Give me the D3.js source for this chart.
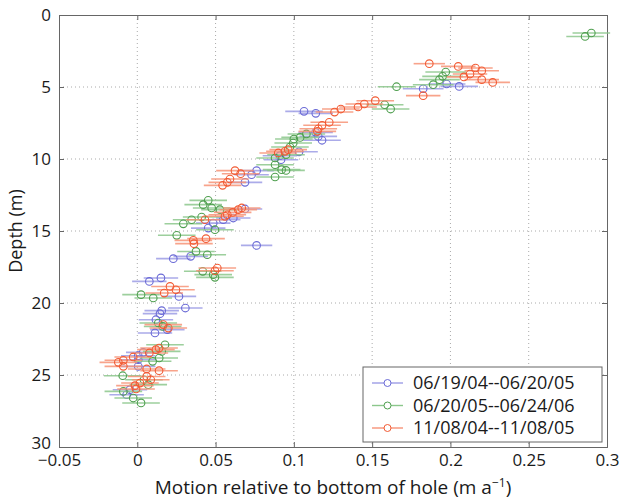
<!DOCTYPE html>
<html>
<head>
<meta charset="utf-8">
<script src="https://cdn.jsdelivr.net/npm/d3@7"></script>
<style>
  body { margin: 0; background: #fff; }
  svg text { font-family: "Open Sans", sans-serif; fill: #1a1a1a; }
</style>
</head>
<body>
<svg id="chart"></svg>
<script>
// [motion (m/a), depth (m), half error bar (m/a)]
var blueData = [
  [0.1976,4.79,0.012],[0.2056,4.96,0.012],[0.1826,5.12,0.013],[0.1065,6.69,0.012],[0.114,6.83,0.011],
  [0.1139,8.15,0.011],[0.1156,8.43,0.012],[0.118,8.7,0.012],[0.1033,9.5,0.012],[0.0911,9.77,0.011],
  [0.0918,10.05,0.011],[0.0762,10.81,0.011],[0.073,11.09,0.011],[0.0688,11.62,0.011],[0.0688,13.47,0.011],
  [0.0613,14.1,0.011],[0.0549,14.22,0.011],[0.0485,14.45,0.011],[0.0453,14.8,0.011],[0.0762,16.0,0.01],
  [0.0341,16.76,0.011],[0.023,16.92,0.011],[0.0151,18.26,0.011],[0.0077,18.5,0.011],[0.0266,19.54,0.011],
  [0.0307,20.35,0.011],[0.0156,20.53,0.011],[0.0145,20.74,0.011],[0.0119,21.16,0.011],[0.0192,21.85,0.011],
  [0.0113,22.08,0.011],[0.0038,23.43,0.011],[0.0006,23.66,0.011],[0.0006,23.94,0.011],[0.0006,24.4,0.011],
  [-0.0047,26.02,0.011],[-0.0068,26.37,0.011]
];
var greenData = [
  [0.290,1.25,0.012],[0.286,1.49,0.012],[0.197,3.96,0.013],[0.195,4.26,0.013],[0.193,4.49,0.013],
  [0.189,4.84,0.013],[0.1656,4.98,0.012],[0.158,6.23,0.012],[0.1618,6.53,0.012],[0.108,8.26,0.012],
  [0.104,8.5,0.012],[0.100,8.61,0.012],[0.0996,8.89,0.012],[0.0975,9.17,0.012],[0.095,9.7,0.012],
  [0.088,9.93,0.012],[0.088,10.4,0.012],[0.0922,10.74,0.012],[0.095,10.79,0.012],[0.088,11.25,0.012],
  [0.0453,12.87,0.012],[0.0421,13.17,0.012],[0.0475,13.4,0.012],[0.0528,13.52,0.012],[0.0411,14.03,0.012],
  [0.0347,14.22,0.012],[0.0294,14.5,0.012],[0.0496,14.91,0.012],[0.0252,15.3,0.012],[0.0375,16.42,0.012],
  [0.0447,16.65,0.012],[0.0418,17.8,0.012],[0.0485,18.03,0.012],[0.0496,18.22,0.012],[0.0024,19.42,0.012],
  [0.0102,19.65,0.012],[0.0134,21.39,0.012],[0.0162,21.63,0.012],[0.0177,22.9,0.012],[0.0156,23.36,0.012],
  [0.014,23.82,0.012],[0.0098,24.05,0.012],[-0.0093,25.05,0.012],[0.0043,25.33,0.012],[0.007,25.67,0.012],
  [-0.0089,26.14,0.012],[-0.0026,26.6,0.012],[0.0024,26.94,0.012]
];
var redData = [
  [0.1865,3.38,0.01],[0.205,3.57,0.011],[0.216,3.68,0.011],[0.220,3.87,0.011],[0.2125,4.1,0.011],
  [0.2086,4.3,0.011],[0.220,4.49,0.011],[0.227,4.68,0.011],[0.1826,5.6,0.011],[0.152,5.95,0.012],
  [0.145,6.18,0.012],[0.141,6.39,0.012],[0.130,6.53,0.012],[0.126,6.74,0.012],[0.1226,7.45,0.012],
  [0.118,7.66,0.012],[0.1156,7.9,0.012],[0.115,8.08,0.012],[0.0964,9.35,0.012],[0.0943,9.47,0.012],
  [0.090,9.58,0.012],[0.0624,10.81,0.012],[0.066,11.02,0.012],[0.0592,11.39,0.012],[0.0575,11.62,0.012],
  [0.0545,11.83,0.012],[0.0667,13.4,0.012],[0.0645,13.52,0.012],[0.0609,13.71,0.012],[0.0575,13.87,0.012],
  [0.056,13.98,0.012],[0.0432,14.22,0.012],[0.0439,15.53,0.012],[0.0358,15.65,0.012],[0.0362,15.88,0.012],
  [0.0511,17.57,0.012],[0.0496,17.76,0.012],[0.0209,18.85,0.012],[0.0247,19.08,0.012],[0.0172,19.31,0.012],
  [0.0166,21.5,0.012],[0.0198,21.74,0.012],[0.0139,23.13,0.012],[0.0119,23.24,0.012],[0.0077,23.47,0.012],
  [-0.0026,23.75,0.012],[-0.0089,23.98,0.012],[-0.0121,24.12,0.012],[-0.0089,24.4,0.012],[0.006,24.58,0.012],
  [0.0139,24.7,0.012],[0.006,25.1,0.012],[0.0086,25.33,0.012],[0.0017,25.56,0.012],[-0.0015,25.74,0.012],
  [-0.0008,25.97,0.012]
];
var seriesNames = ["06/19/04--06/20/05", "06/20/05--06/24/06", "11/08/04--11/08/05"];
var xTicks = [-0.05, 0, 0.05, 0.1, 0.15, 0.2, 0.25, 0.3];
var xTickLabels = ["\u22120.05", "0", "0.05", "0.1", "0.15", "0.2", "0.25", "0.3"];
var yTicks = [0, 5, 10, 15, 20, 25, 30];

var width = 619, height = 501;
var mLeft = 59, mRight = 607, mTop = 15, mBottom = 447;

var svg = d3.select("#chart").attr("width", width).attr("height", height);

var x = d3.scaleLinear().domain([-0.05, 0.3]).range([mLeft, mRight]);
var y = d3.scaleLinear().domain([0, 30]).range([mTop, mBottom]);

var colors = ["#6a6ad6", "#4f9f4f", "#f25a33"];
var barColors = ["#9d9de6", "#8cc78c", "#f79377"];

// grid
var grid = svg.append("g");
grid.selectAll("line.gx").data(xTicks.slice(1, -1)).enter().append("line")
  .attr("x1", function(d){ return x(d); }).attr("x2", function(d){ return x(d); })
  .attr("y1", mTop).attr("y2", mBottom)
  .attr("stroke", "#aaa").attr("stroke-width", 1).attr("stroke-dasharray", "1,3");
grid.selectAll("line.gy").data(yTicks.slice(1, -1)).enter().append("line")
  .attr("y1", function(d){ return y(d); }).attr("y2", function(d){ return y(d); })
  .attr("x1", mLeft).attr("x2", mRight)
  .attr("stroke", "#aaa").attr("stroke-width", 1).attr("stroke-dasharray", "1,3");

// axes (ticks inward, MATLAB style)
var xAxis = svg.append("g").attr("transform", "translate(0," + mBottom + ")")
  .call(d3.axisBottom(x).tickValues(xTicks).tickSize(-5).tickPadding(10)
    .tickFormat(function(d, i){ return xTickLabels[i]; }));
var xAxisTop = svg.append("g").attr("transform", "translate(0," + mTop + ")")
  .call(d3.axisTop(x).tickValues(xTicks).tickSize(-5).tickFormat(""));
var yAxis = svg.append("g").attr("transform", "translate(" + mLeft + ",0)")
  .call(d3.axisLeft(y).tickValues(yTicks).tickSize(-5).tickPadding(8));
var yAxisRight = svg.append("g").attr("transform", "translate(" + mRight + ",0)")
  .call(d3.axisRight(y).tickValues(yTicks).tickSize(-5).tickFormat(""));

[xAxis, xAxisTop, yAxis, yAxisRight].forEach(function(a){
  a.select(".domain").attr("stroke", "#666");
  a.selectAll(".tick line").attr("stroke", "#666");
  a.selectAll("text").style("font-family", "'Open Sans', sans-serif").style("font-size", "17px").attr("fill", "#1a1a1a");
});
xAxis.selectAll(".tick text").attr("dy", "0.5em");
yAxis.selectAll(".tick text").attr("dy", function(d){ return d === 30 ? "0.1em" : "0.3em"; });

// data
var plot = svg.append("g");
[blueData, greenData, redData].forEach(function(data, s){
  var g = plot.append("g");
  g.selectAll("line").data(data).enter().append("line")
    .attr("x1", function(d){ return x(d[0] - d[2]); })
    .attr("x2", function(d){ return x(d[0] + d[2]); })
    .attr("y1", function(d){ return y(d[1]); })
    .attr("y2", function(d){ return y(d[1]); })
    .attr("stroke", barColors[s]).attr("stroke-width", 1.6).attr("opacity", 0.85);
  g.selectAll("circle").data(data).enter().append("circle")
    .attr("cx", function(d){ return x(d[0]); })
    .attr("cy", function(d){ return y(d[1]); })
    .attr("r", 3.8)
    .attr("fill", "none").attr("stroke", colors[s]).attr("stroke-width", 1.1);
});

// legend
var lg = svg.append("g").attr("transform", "translate(363,367)");
lg.append("rect").attr("width", 239).attr("height", 75)
  .attr("fill", "#fff").attr("stroke", "#666");
seriesNames.forEach(function(name, i){
  var ly = 16 + i * 22.5;
  lg.append("line").attr("x1", 9).attr("x2", 40).attr("y1", ly).attr("y2", ly)
    .attr("stroke", barColors[i]).attr("stroke-width", 1.4);
  lg.append("circle").attr("cx", 24.5).attr("cy", ly).attr("r", 3.5)
    .attr("fill", "#fff").attr("stroke", colors[i]).attr("stroke-width", 1);
  lg.append("text").attr("x", 50).attr("y", ly).attr("dy", "0.36em")
    .style("font-size", "18px").text(name);
});

// axis labels
svg.append("text").attr("transform", "translate(22," + ((mTop + mBottom) / 2) + ") rotate(-90)")
  .attr("text-anchor", "middle").style("font-size", "18px").text("Depth (m)");
var xl = svg.append("text").attr("x", (mLeft + mRight) / 2).attr("y", 494)
  .attr("text-anchor", "middle").style("font-size", "19px");
xl.append("tspan").text("Motion relative to bottom of hole (m a");
xl.append("tspan").attr("dy", -7).style("font-size", "12px").text("\u22121");
xl.append("tspan").attr("dy", 7).text(")");
</script>
</body>
</html>
